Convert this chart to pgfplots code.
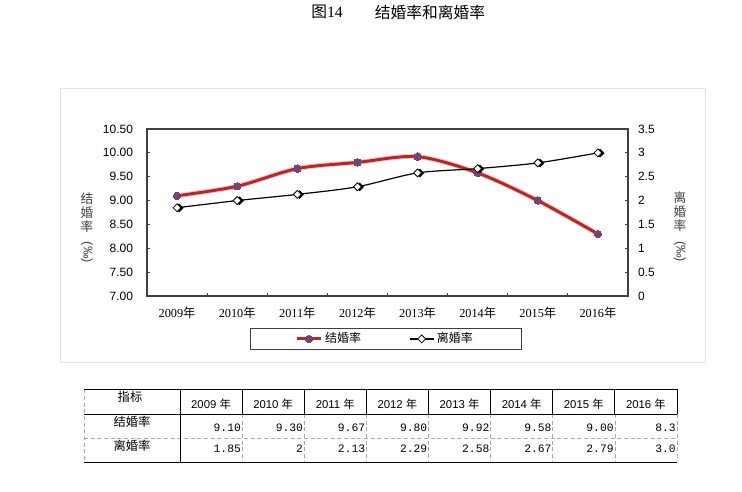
\documentclass[border=0pt]{standalone}
\usepackage{fontspec}
\usepackage{graphicx}
\usepackage{pgfplots}
\pgfplotsset{compat=1.18}
\setmainfont{Liberation Sans}
\newfontfamily\cjk{Noto Sans CJK SC}
\newfontfamily\serifdig{Liberation Serif}
\newfontfamily\monodig{Liberation Mono}

\definecolor{axisgray}{HTML}{404040}
\definecolor{marred}{HTML}{B2282C}
\definecolor{marglow}{HTML}{F7C8C8}
\definecolor{marmark}{HTML}{74466F}
\definecolor{panelgray}{HTML}{E4E4E4}
\definecolor{cellgray}{HTML}{A8A8A8}

\newcommand{\yr}[1]{{\serifdig #1}{\cjk 年}}

\pgfplotsset{
  base/.style={
    scale only axis, width=360.75pt, height=125.25pt,
    at={(110.25pt,147pt)}, anchor=south west,
    xmin=-0.5, xmax=7.5,
    axis line style={axisgray, line width=0.8pt},
    tick style={axisgray, line width=0.6pt},
    tick align=inside,
    major tick length=2.5pt, minor tick length=2.5pt,
    /pgf/number format/assume math mode=true,
    ticklabel style={font=\fontsize{9}{10}\selectfont},
  },
  marstyle/.style={marred, line width=2.2pt, mark=*, mark size=2.8pt,
    mark options={fill=marmark, draw=marmark, line width=0pt}},
}

\begin{document}
\begin{tikzpicture}
% background, panel, titles and table; 1px = 0.75pt, y downwards
\begin{scope}[x=0.75pt, y=-0.75pt, yshift=369pt]
  \path[fill=white] (0,0) rectangle (742,492);
  \draw[panelgray, fill=white] (60,88) rectangle (705,362);
  \node[font=\cjk\fontsize{11.8}{14}\selectfont] at (327,12) {图{\serifdig 14}};
  \node[font=\cjk\fontsize{11.8}{14}\selectfont] at (430,12) {结婚率和离婚率};
  \node[font=\cjk\fontsize{9.5}{10.6}\selectfont, align=center, black!75] at (87,228)
    {结\\婚\\率\\[-3pt]\rotatebox{-90}{\rmfamily\fontsize{9.5}{10}\selectfont(‰)}};
  \node[font=\cjk\fontsize{9.5}{10.6}\selectfont, align=center, black!75] at (680,227)
    {离\\婚\\率\\[-3pt]\rotatebox{-90}{\rmfamily\fontsize{9.5}{10}\selectfont(‰)}};

  % table
  \draw[cellgray, densely dashed, line width=0.5pt] (84,438) -- (677,438);
  \draw[cellgray, densely dashed, line width=0.5pt] (84,389.5) -- (84,462);
  \foreach \k in {1,...,8}
    \draw[cellgray, densely dashed, line width=0.5pt] ({180+62.125*\k},414) -- ({180+62.125*\k},462);
  \foreach \k in {1,...,8}
    \draw[black, line width=0.6pt] ({180+62.125*\k},389.5) -- ({180+62.125*\k},414);
  \draw[black, line width=0.6pt] (180,389.5) -- (180,462);
  \draw[black, line width=0.7pt] (84,389.5) -- (677,389.5);
  \draw[black, line width=0.7pt] (84,414) -- (677,414);
  \draw[black, line width=0.7pt] (84,462) -- (677,462);

  \node[font=\cjk\fontsize{9.2}{11}\selectfont] at (130,397) {指标};
  \node[font=\cjk\fontsize{9.2}{11}\selectfont] at (132,422) {结婚率};
  \node[font=\cjk\fontsize{9.2}{11}\selectfont] at (132,446) {离婚率};
  \foreach \y [count=\i from 0] in {2009,2010,2011,2012,2013,2014,2015,2016}
    \node[font=\fontsize{8.5}{10}\selectfont] at ({180+62.125*\i+31},404) {\y\ {\cjk 年}};
  \foreach \v [count=\i from 1] in {9.10,9.30,9.67,9.80,9.92,9.58,9.00,8.3}
    \node[anchor=east, inner sep=0pt, font=\monodig\fontsize{8.5}{10}\selectfont] at ({180+62.125*\i-1},428) {\v};
  \foreach \v [count=\i from 1] in {1.85,2,2.13,2.29,2.58,2.67,2.79,3.0}
    \node[anchor=east, inner sep=0pt, font=\monodig\fontsize{8.5}{10}\selectfont] at ({180+62.125*\i-1},449) {\v};
\end{scope}

% marriage rate, left axis
\begin{axis}[base,
  ymin=7, ymax=10.5, ytick={7,7.5,...,10.5}, ytick pos=left,
  yticklabel style={xshift=-7pt, /pgf/number format/.cd, fixed, fixed zerofill, precision=2},
  xtick={0,...,7}, xtick pos=bottom,
  xticklabels={\yr{2009},\yr{2010},\yr{2011},\yr{2012},\yr{2013},\yr{2014},\yr{2015},\yr{2016}},
  xticklabel style={font=\fontsize{9.2}{10}\selectfont, yshift=-5pt},
  major x tick style={draw=none},
  minor x tick num=1,
]
\addplot[marglow, line width=3.8pt, smooth, forget plot] coordinates {
  (0,9.10) (1,9.30) (2,9.67) (3,9.80) (4,9.92) (5,9.58) (6,9.00) (7,8.30)};
\addplot[marstyle, smooth] coordinates {
  (0,9.10) (1,9.30) (2,9.67) (3,9.80) (4,9.92) (5,9.58) (6,9.00) (7,8.30)};
\end{axis}

% divorce rate, right axis
\begin{axis}[base,
  axis x line=none, axis y line*=right,
  ymin=0, ymax=3.5, ytick={0,0.5,...,3.5},
  yticklabel style={xshift=4pt},
  legend columns=2,
  legend style={at={(0.496,-0.257)}, anchor=center, draw=axisgray, line width=0.7pt,
    inner xsep=34pt, inner ysep=1.5pt,
    font=\cjk\fontsize{9}{10}\selectfont,
    /tikz/every even column/.append style={column sep=34pt}},
  legend image code/.code={\draw[mark repeat=2, mark phase=2, #1]
    plot coordinates {(0pt,0pt) (9pt,0pt) (18pt,0pt)};},
]
\addlegendimage{marstyle}
\addlegendentry{结婚率}
\addplot[black, only marks, forget plot, mark=square*, mark size=2.1pt,
  mark options={rotate=45, xshift=1.1pt, yshift=-1.3pt}] coordinates {
  (0,1.85) (1,2.00) (2,2.13) (3,2.29) (4,2.58) (5,2.67) (6,2.79) (7,3.00)};
\addplot[black, line width=0.9pt, smooth, mark=square*, mark size=2.1pt,
  mark options={rotate=45, fill=white, line width=0.6pt}] coordinates {
  (0,1.85) (1,2.00) (2,2.13) (3,2.29) (4,2.58) (5,2.67) (6,2.79) (7,3.00)};
\addlegendentry{离婚率}
\end{axis}
\end{tikzpicture}
\end{document}
